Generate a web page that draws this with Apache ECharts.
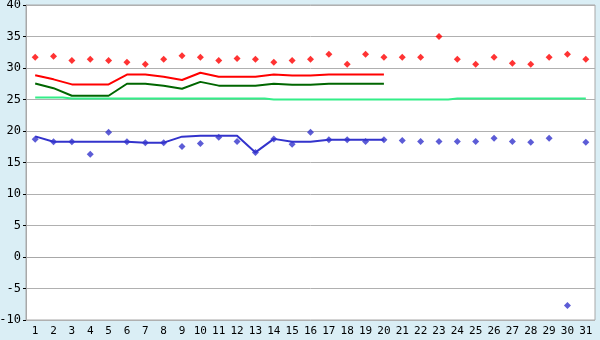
<!DOCTYPE html>
<html>
<head>
<meta charset="utf-8">
<script src="https://cdn.jsdelivr.net/npm/echarts@6/dist/echarts.min.js"></script>
<style>
  html, body { margin: 0; padding: 0; background: #daeef5; }
  #main { width: 600px; height: 340px; }
</style>
</head>
<body>
<div id="main"></div>
<script>
var days = ['1','2','3','4','5','6','7','8','9','10','11','12','13','14','15','16',
            '17','18','19','20','21','22','23','24','25','26','27','28','29','30','31'];

// daily points (red, upper)
var redPoints = [31.7, 31.85, 31.2, 31.4, 31.2, 30.9, 30.6, 31.4, 31.95, 31.7, 31.2, 31.5, 31.4, 30.9, 31.2, 31.4,
                 32.2, 30.6, 32.2, 31.7, 31.7, 31.7, 35.0, 31.4, 30.6, 31.7, 30.75, 30.6, 31.7, 32.2, 31.4];
// daily points (blue, lower)
var bluePoints = [18.7, 18.3, 18.3, 16.3, 19.8, 18.3, 18.15, 18.15, 17.55, 18.0, 19.0, 18.35, 16.6, 18.75, 17.9, 19.8,
                  18.6, 18.6, 18.35, 18.6, 18.5, 18.35, 18.35, 18.35, 18.35, 18.85, 18.35, 18.2, 18.85, -7.7, 18.2];

// smoothed lines, first 20 days only
var redLine = [28.85, 28.2, 27.4, 27.4, 27.4, 28.95, 28.95, 28.6, 28.1, 29.25, 28.6, 28.6, 28.6, 28.95, 28.8, 28.8,
               28.95, 28.95, 28.95, 28.95];
var greenLine = [27.55, 26.8, 25.6, 25.6, 25.6, 27.5, 27.5, 27.2, 26.7, 27.8, 27.2, 27.2, 27.2, 27.5, 27.35, 27.35,
                 27.5, 27.5, 27.5, 27.5];
var blueLine = [19.15, 18.3, 18.3, 18.3, 18.3, 18.3, 18.15, 18.15, 19.1, 19.25, 19.25, 19.25, 16.6, 18.75, 18.3, 18.3,
                18.6, 18.6, 18.6, 18.6];

// reference level
var refLine = [25.3, 25.3, 25.15, 25.15, 25.15, 25.15, 25.15, 25.15, 25.15, 25.15, 25.15, 25.15, 25.15, 25.0, 25.0, 25.0,
               25.0, 25.0, 25.0, 25.0, 25.0, 25.0, 25.0, 25.15, 25.15, 25.15, 25.15, 25.15, 25.15, 25.15, 25.15];

var myChart = echarts.init(document.getElementById('main'));

var font = 'DejaVu Sans Mono';

function lineSeries(data, color) {
    return {
        type: 'line',
        data: data,
        showSymbol: false,
        silent: true,
        lineStyle: { color: color, width: 2 },
        itemStyle: { color: color }
    };
}

myChart.setOption({
    animation: false,
    grid: {
        left: 26, right: 5, top: 5, bottom: 20,
        outerBoundsMode: 'none',
        containLabel: false,
        show: true,
        backgroundColor: '#ffffff',
        borderColor: '#a8a8a8',
        borderWidth: 1
    },
    xAxis: {
        type: 'category',
        data: days,
        boundaryGap: true,
        axisLine: { lineStyle: { color: '#a8a8a8' } },
        axisTick: { alignWithLabel: true, length: 4, lineStyle: { color: '#000' } },
        axisLabel: { color: '#000', fontFamily: font, fontSize: 11, margin: 6, interval: 0 },
        splitLine: { show: false }
    },
    yAxis: {
        type: 'value',
        min: -10, max: 40, interval: 5,
        axisLine: { show: true, lineStyle: { color: '#a8a8a8' } },
        axisTick: { show: true, length: 3, lineStyle: { color: '#000' } },
        axisLabel: { color: '#000', fontFamily: font, fontSize: 12, margin: 5 },
        splitLine: { lineStyle: { color: '#b0b0b0' } }
    },
    series: [
        {
            type: 'line',
            data: refLine,
            step: 'middle',
            showSymbol: false,
            silent: true,
            lineStyle: { color: '#33ee88', width: 2 }
        },
        lineSeries(redLine, '#ff0000'),
        lineSeries(greenLine, '#006600'),
        lineSeries(blueLine, '#3333cc'),
        {
            type: 'scatter',
            data: redPoints,
            symbol: 'diamond',
            symbolSize: 7,
            itemStyle: { color: '#ff0000' }
        },
        {
            type: 'scatter',
            data: bluePoints,
            symbol: 'diamond',
            symbolSize: 7,
            itemStyle: { color: '#3333cc' }
        }
    ]
});
</script>
</body>
</html>
